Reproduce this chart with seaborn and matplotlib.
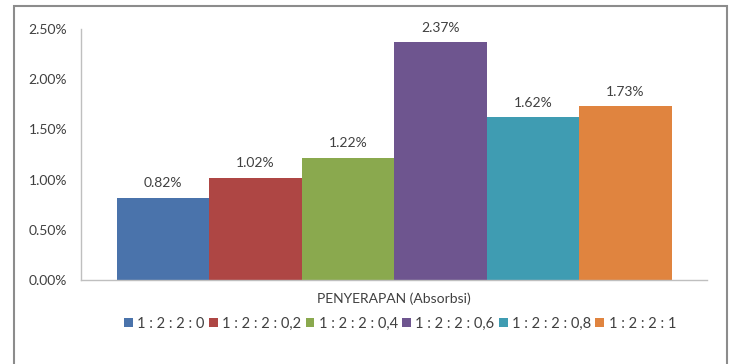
import pandas as pd
import seaborn as sns
import matplotlib.pyplot as plt
from matplotlib.patches import Patch, Rectangle
from matplotlib.ticker import FuncFormatter

# data
kategori = ["PENYERAPAN (Absorbsi)"] * 6
komposisi = ["1 : 2 : 2 : 0", "1 : 2 : 2 : 0,2", "1 : 2 : 2 : 0,4",
             "1 : 2 : 2 : 0,6", "1 : 2 : 2 : 0,8", "1 : 2 : 2 : 1"]
nilai = [0.82, 1.02, 1.22, 2.37, 1.62, 1.73]
warna = ["#4A73AB", "#AE4644", "#8AA94E", "#6E558F", "#3F9CB2", "#E0843F"]

df = pd.DataFrame({"kategori": kategori, "komposisi": komposisi, "nilai": nilai})

sns.set_style("white")
plt.rcParams["font.family"] = ["Lato", "DejaVu Sans"]

fig = plt.figure(figsize=(7.35, 3.64), dpi=100)
ax = fig.add_axes([81 / 735, 84 / 364, 626 / 735, 251 / 364])

sns.barplot(data=df, x="kategori", y="nilai", hue="komposisi",
            palette=warna, width=555 / 626, saturation=1, linewidth=0,
            ax=ax, legend=False)

for c in ax.containers:
    ax.bar_label(c, fmt="%.2f%%", padding=6, fontsize=10, color="#404040")

ax.set_xlim(-0.5, 0.5)
ax.set_ylim(0, 2.5)
ax.set_yticks([0, 0.5, 1.0, 1.5, 2.0, 2.5])
ax.yaxis.set_major_formatter(FuncFormatter(lambda v, p: f"{v:.2f}%"))
ax.tick_params(axis="both", length=0, labelsize=10, colors="#404040")
ax.tick_params(axis="y", pad=10)
ax.tick_params(axis="x", pad=9)
ax.set_xlabel("")
ax.set_ylabel("")
for s in ["top", "right"]:
    ax.spines[s].set_visible(False)
for s in ["left", "bottom"]:
    ax.spines[s].set_color("#BFBFBF")
    ax.spines[s].set_linewidth(1)

handles = [Patch(facecolor=w, edgecolor="none", label=k) for k, w in zip(komposisi, warna)]
fig.legend(handles=handles, loc="center", bbox_to_anchor=(400 / 735, 1 - 324 / 364),
           ncol=6, frameon=False, fontsize=10.5, handlelength=0.6, handleheight=0.6,
           handletextpad=0.3, columnspacing=0.3, labelcolor="#404040")

fig.patches.append(Rectangle((14 / 735, -0.05), 713 / 735, 1.05 - 6 / 364,
                             transform=fig.transFigure, fill=False,
                             edgecolor="#8C8C8C", linewidth=1.5))

fig.savefig("out.png", dpi=100)
